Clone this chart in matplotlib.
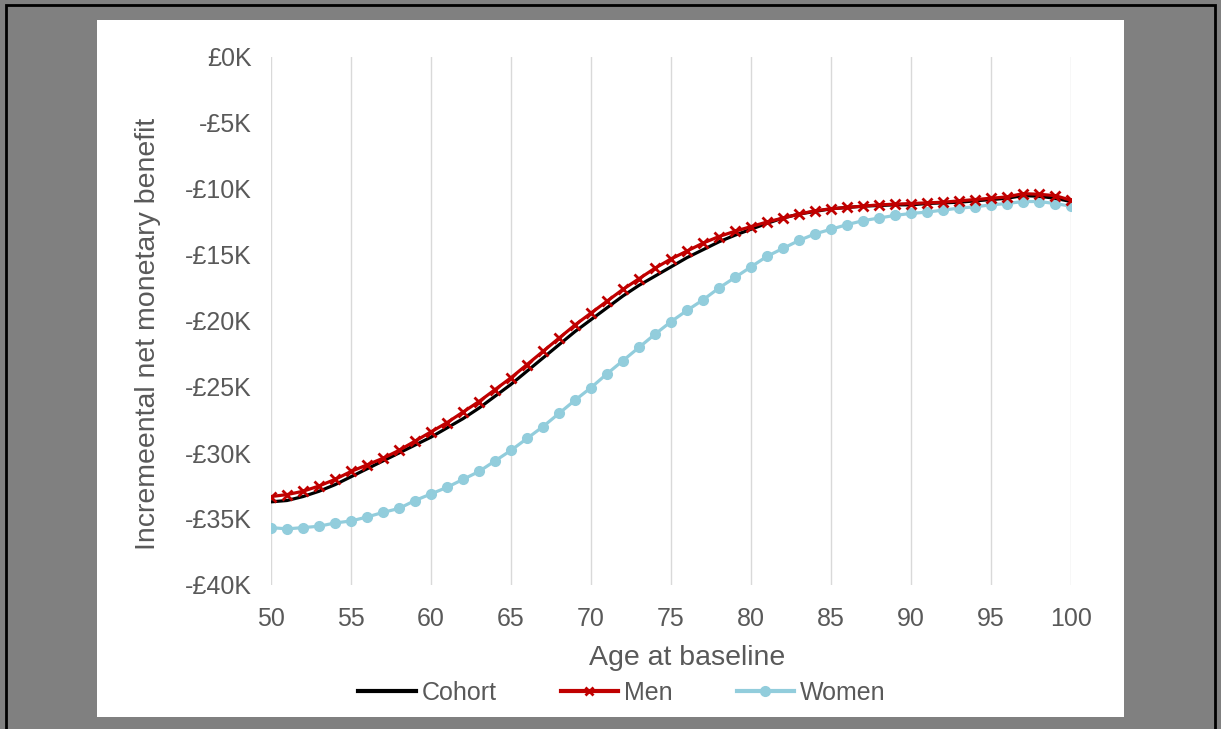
import matplotlib
matplotlib.use('Agg')
import matplotlib.pyplot as plt
from matplotlib.patches import Rectangle
from matplotlib.lines import Line2D

plt.rcParams['font.family'] = ['Liberation Sans', 'DejaVu Sans']

# data (values in £K)
ages = list(range(50, 101))
cohort = [-33.7, -33.6, -33.3, -32.9, -32.4, -31.8, -31.2, -30.6, -30.0, -29.4,
          -28.8, -28.1, -27.4, -26.6, -25.7, -24.8, -23.8, -22.8, -21.8, -20.8,
          -19.9, -19.0, -18.1, -17.3, -16.6, -15.9, -15.2, -14.6, -14.0, -13.5,
          -13.05, -12.6, -12.2, -11.9, -11.7, -11.5, -11.4, -11.3, -11.25, -11.2,
          -11.2, -11.1, -11.05, -11.0, -10.9, -10.8, -10.7, -10.5, -10.55, -10.7,
          -10.95]
men = [-33.3, -33.15, -32.9, -32.5, -32.0, -31.4, -30.9, -30.4, -29.8, -29.1,
       -28.4, -27.7, -26.9, -26.1, -25.2, -24.3, -23.3, -22.3, -21.3, -20.3,
       -19.4, -18.5, -17.6, -16.8, -16.0, -15.3, -14.7, -14.1, -13.6, -13.2,
       -12.85, -12.5, -12.2, -11.9, -11.65, -11.5, -11.4, -11.3, -11.2, -11.15,
       -11.1, -11.05, -11.0, -10.9, -10.8, -10.7, -10.6, -10.35, -10.4, -10.5,
       -10.85]
women = [-35.65, -35.75, -35.65, -35.55, -35.3, -35.15, -34.85, -34.5, -34.2, -33.6,
         -33.1, -32.6, -32.0, -31.4, -30.6, -29.8, -28.9, -28.0, -27.0, -26.0,
         -25.05, -24.0, -23.0, -22.0, -21.0, -20.05, -19.2, -18.4, -17.5, -16.7,
         -15.9, -15.1, -14.5, -13.9, -13.4, -13.05, -12.7, -12.4, -12.2, -12.0,
         -11.85, -11.75, -11.6, -11.45, -11.35, -11.2, -11.1, -10.95, -10.95, -11.1,
         -11.3]
yticks = [0, -5, -10, -15, -20, -25, -30, -35, -40]
ytick_labels = ['£0K', '-£5K', '-£10K', '-£15K', '-£20K', '-£25K', '-£30K', '-£35K', '-£40K']
xticks = list(range(50, 101, 5))

fig = plt.figure(figsize=(12.21, 7.29), dpi=100)
fig.patch.set_facecolor('#808080')

# white chart area and outer black frame
fig.patches.append(Rectangle((97 / 1221, 1 - 717 / 729), 1027 / 1221, 697 / 729,
                             transform=fig.transFigure, facecolor='white',
                             edgecolor='none', zorder=0))
fig.patches.append(Rectangle((5.5 / 1221, -0.1), 1209 / 1221, 1.1 - 5 / 729,
                             transform=fig.transFigure, facecolor='none',
                             edgecolor='black', linewidth=2, zorder=1))

ax = fig.add_axes([271 / 1221, 1 - 585 / 729, 800 / 1221, 528 / 729])
ax.set_zorder(5)
ax.set_facecolor('none')

ax.plot(ages, cohort, color='black', linewidth=2.3, label='Cohort', zorder=3)
ax.plot(ages, men, color='#C00000', linewidth=2.3, marker='x', markersize=7,
        markeredgewidth=2, label='Men', zorder=4)
ax.plot(ages, women, color='#92CDDC', linewidth=2.3, marker='o', markersize=7,
        label='Women', zorder=2)

ax.set_xlim(50, 100)
ax.set_ylim(-40, 0)
ax.set_xticks(xticks)
ax.set_yticks(yticks)
ax.set_yticklabels(ytick_labels)
ax.tick_params(length=0, labelsize=18, labelcolor='#595959')
ax.tick_params(axis='y', pad=14)
ax.tick_params(axis='x', pad=16)
ax.grid(axis='x', color='#D9D9D9', linewidth=1)
for s in ax.spines.values():
    s.set_visible(False)

ax.set_xlabel('Age at baseline', fontsize=20.5, color='#595959', labelpad=10)
ax.set_ylabel('Incremeental net monetary benefit', fontsize=20.5, color='#595959', labelpad=17)
ax.xaxis.label.set_x(0.52)
ax.yaxis.label.set_y(0.475)

handles = [Line2D([], [], color='black', linewidth=3),
           Line2D([], [], color='#C00000', linewidth=3, marker='x', markersize=6, markeredgewidth=2),
           Line2D([], [], color='#92CDDC', linewidth=3, marker='o', markersize=7)]
leg = fig.legend(handles, ['Cohort', 'Men', 'Women'], loc='center',
                 bbox_to_anchor=(622 / 1221, 1 - 693 / 729),
                 ncol=3, frameon=False, fontsize=18, labelcolor='#595959',
                 handlelength=2.3, handletextpad=0.25, columnspacing=2.55)
leg.set_zorder(6)

fig.savefig('out.png', dpi=100, facecolor=fig.get_facecolor())
